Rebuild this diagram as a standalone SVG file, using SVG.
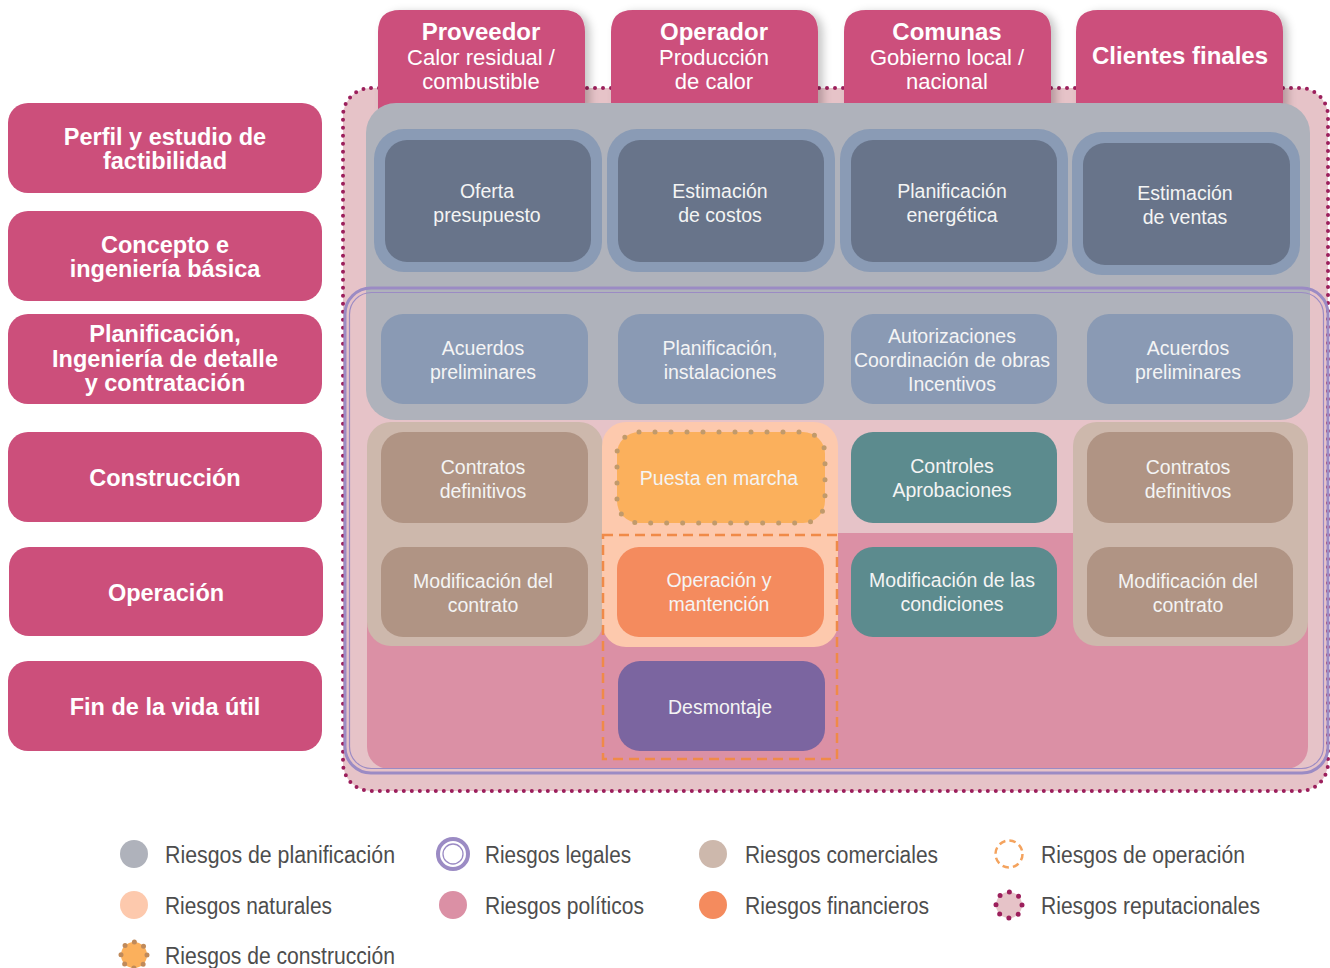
<svg xmlns="http://www.w3.org/2000/svg" width="1330" height="968" viewBox="0 0 1330 968">
<defs>
<style>
.ph{fill:#cc4f7b}
.pht{font-family:"Liberation Sans",Arial,sans-serif;font-weight:bold;font-size:23.5px;fill:#fff;text-anchor:middle}
.hb{font-family:"Liberation Sans",Arial,sans-serif;font-weight:bold;font-size:24px;fill:#fff;text-anchor:middle}
.hr{font-family:"Liberation Sans",Arial,sans-serif;font-size:22px;fill:#fff;text-anchor:middle}
.bt{font-family:"Liberation Sans",Arial,sans-serif;font-size:19.5px;fill:#f4f4f4;text-anchor:middle}
.lg{font-family:"Liberation Sans",Arial,sans-serif;font-size:23px;fill:#4d4d4d}
.dk{fill:#68748a}
.dkb{fill:#8a9bb5}
.lb{fill:#8a9ab4}
.br{fill:#b09484}
.tl{fill:#5c8b8e}
</style>
<filter id="sh" x="-10%" y="-10%" width="130%" height="130%">
<feDropShadow dx="5" dy="2" stdDeviation="4" flood-color="#000" flood-opacity="0.22"/>
</filter>
</defs>
<rect width="1330" height="968" fill="#fff"/>

<g id="reputational-area">
<rect x="343" y="88" width="985" height="703" rx="28" fill="#e6c3c8" stroke="#9c1f5c" stroke-width="4" stroke-dasharray="0 8" stroke-linecap="round"/>
</g>

<g id="header-proveedor">
<path d="M378 110 V32 Q378 10 400 10 H563 Q585 10 585 32 V110 Z" class="ph" filter="url(#sh)"/>
<text x="481" y="40" class="hb">Proveedor</text>
<text x="481" y="65" class="hr">Calor residual /</text>
<text x="481" y="89" class="hr">combustible</text>
</g>
<g id="header-operador">
<path d="M611 110 V32 Q611 10 633 10 H796 Q818 10 818 32 V110 Z" class="ph" filter="url(#sh)"/>
<text x="714" y="40" class="hb">Operador</text>
<text x="714" y="65" class="hr">Producción</text>
<text x="714" y="89" class="hr">de calor</text>
</g>
<g id="header-comunas">
<path d="M844 110 V32 Q844 10 866 10 H1029 Q1051 10 1051 32 V110 Z" class="ph" filter="url(#sh)"/>
<text x="947" y="40" class="hb">Comunas</text>
<text x="947" y="65" class="hr">Gobierno local /</text>
<text x="947" y="89" class="hr">nacional</text>
</g>
<g id="header-clientes">
<path d="M1076 110 V32 Q1076 10 1098 10 H1261 Q1283 10 1283 32 V110 Z" class="ph" filter="url(#sh)"/>
<text x="1180" y="64" class="hb">Clientes finales</text>
</g>

<g id="planning-area">
<rect x="366" y="103" width="944" height="317" rx="30" fill="#afb2bb"/>
</g>
<g id="political-area">
<rect x="367" y="533" width="941" height="236" rx="22" fill="#db90a5"/>
</g>
<g id="commercial-area-1">
<rect x="367" y="422" width="236" height="224" rx="24" fill="#cdb8ac"/>
</g>
<g id="natural-area">
<rect x="602" y="422" width="236" height="225" rx="24" fill="#fdc9ad"/>
</g>
<g id="commercial-area-4">
<rect x="1073" y="422" width="235" height="224" rx="24" fill="#cdb8ac"/>
</g>

<g id="legal-area" fill="none" stroke="#9b8bc4">
<rect x="345" y="288" width="983" height="485" rx="26" stroke-width="3"/>
<rect x="349.5" y="292.5" width="974" height="476" rx="22" stroke-width="1.2"/>
</g>

<g id="phase-perfil">
<rect x="8" y="103" width="314" height="90" rx="20" class="ph"/>
<text x="165" y="145" class="pht">Perfil y estudio de</text>
<text x="165" y="169" class="pht">factibilidad</text>
</g>
<g id="phase-concepto">
<rect x="8" y="211" width="314" height="90" rx="20" class="ph"/>
<text x="165" y="253" class="pht">Concepto e</text>
<text x="165" y="277" class="pht">ingeniería básica</text>
</g>
<g id="phase-planificacion">
<rect x="8" y="314" width="314" height="90" rx="20" class="ph"/>
<text x="165" y="342" class="pht">Planificación,</text>
<text x="165" y="367" class="pht">Ingeniería de detalle</text>
<text x="165" y="391" class="pht">y contratación</text>
</g>
<g id="phase-construccion">
<rect x="8" y="432" width="314" height="90" rx="20" class="ph"/>
<text x="165" y="486" class="pht">Construcción</text>
</g>
<g id="phase-operacion">
<rect x="9" y="547" width="314" height="89" rx="20" class="ph"/>
<text x="166" y="601" class="pht">Operación</text>
</g>
<g id="phase-fin">
<rect x="8" y="661" width="314" height="90" rx="20" class="ph"/>
<text x="165" y="715" class="pht">Fin de la vida útil</text>
</g>

<g id="oferta-presupuesto">
<rect x="374" y="129" width="228" height="143" rx="30" class="dkb"/>
<rect x="385" y="140" width="206" height="122" rx="22" class="dk"/>
<text x="487" y="198" class="bt">Oferta</text>
<text x="487" y="222" class="bt">presupuesto</text>
</g>
<g id="estimacion-costos">
<rect x="607" y="129" width="228" height="143" rx="30" class="dkb"/>
<rect x="618" y="140" width="206" height="122" rx="22" class="dk"/>
<text x="720" y="198" class="bt">Estimación</text>
<text x="720" y="222" class="bt">de costos</text>
</g>
<g id="planificacion-energetica">
<rect x="840" y="129" width="228" height="143" rx="30" class="dkb"/>
<rect x="851" y="140" width="206" height="122" rx="22" class="dk"/>
<text x="952" y="198" class="bt">Planificación</text>
<text x="952" y="222" class="bt">energética</text>
</g>
<g id="estimacion-ventas">
<rect x="1072" y="132" width="228" height="143" rx="30" class="dkb"/>
<rect x="1083" y="143" width="207" height="122" rx="22" class="dk"/>
<text x="1185" y="200" class="bt">Estimación</text>
<text x="1185" y="224" class="bt">de ventas</text>
</g>

<g id="acuerdos-preliminares-1">
<rect x="381" y="314" width="207" height="90" rx="22" class="lb"/>
<text x="483" y="355" class="bt">Acuerdos</text>
<text x="483" y="379" class="bt">preliminares</text>
</g>
<g id="planificacion-instalaciones">
<rect x="618" y="314" width="206" height="90" rx="22" class="lb"/>
<text x="720" y="355" class="bt">Planificación,</text>
<text x="720" y="379" class="bt">instalaciones</text>
</g>
<g id="autorizaciones">
<rect x="851" y="314" width="206" height="90" rx="22" class="lb"/>
<text x="952" y="343" class="bt">Autorizaciones</text>
<text x="952" y="367" class="bt">Coordinación de obras</text>
<text x="952" y="391" class="bt">Incentivos</text>
</g>
<g id="acuerdos-preliminares-4">
<rect x="1087" y="314" width="206" height="90" rx="22" class="lb"/>
<text x="1188" y="355" class="bt">Acuerdos</text>
<text x="1188" y="379" class="bt">preliminares</text>
</g>

<g id="contratos-definitivos-1">
<rect x="381" y="432" width="207" height="91" rx="22" class="br"/>
<text x="483" y="474" class="bt">Contratos</text>
<text x="483" y="498" class="bt">definitivos</text>
</g>
<g id="puesta-en-marcha">
<rect x="617" y="432" width="208" height="91" rx="22" fill="#fbb05c" stroke="#c19a6b" stroke-width="5" stroke-dasharray="0 16" stroke-linecap="round"/>
<text x="719" y="485" class="bt">Puesta en marcha</text>
</g>
<g id="controles-aprobaciones">
<rect x="851" y="432" width="206" height="91" rx="22" class="tl"/>
<text x="952" y="473" class="bt">Controles</text>
<text x="952" y="497" class="bt">Aprobaciones</text>
</g>
<g id="contratos-definitivos-4">
<rect x="1087" y="432" width="206" height="91" rx="22" class="br"/>
<text x="1188" y="474" class="bt">Contratos</text>
<text x="1188" y="498" class="bt">definitivos</text>
</g>

<g id="operation-risk-frame">
<rect x="603" y="535" width="234" height="224" fill="none" stroke="#f08a48" stroke-width="2.5" stroke-dasharray="10 6"/>
</g>

<g id="modificacion-contrato-1">
<rect x="381" y="547" width="207" height="90" rx="22" class="br"/>
<text x="483" y="588" class="bt">Modificación del</text>
<text x="483" y="612" class="bt">contrato</text>
</g>
<g id="operacion-mantencion">
<rect x="617" y="547" width="207" height="90" rx="22" fill="#f48b5e"/>
<text x="719" y="587" class="bt">Operación y</text>
<text x="719" y="611" class="bt">mantención</text>
</g>
<g id="modificacion-condiciones">
<rect x="851" y="547" width="206" height="90" rx="22" class="tl"/>
<text x="952" y="587" class="bt">Modificación de las</text>
<text x="952" y="611" class="bt">condiciones</text>
</g>
<g id="modificacion-contrato-4">
<rect x="1087" y="547" width="206" height="90" rx="22" class="br"/>
<text x="1188" y="588" class="bt">Modificación del</text>
<text x="1188" y="612" class="bt">contrato</text>
</g>
<g id="desmontaje">
<rect x="618" y="661" width="207" height="90" rx="22" fill="#7b65a0"/>
<text x="720" y="714" class="bt">Desmontaje</text>
</g>

<g id="legend">
<g id="legend-planificacion">
<circle cx="134" cy="854" r="14" fill="#afb2bb"/>
<text x="165" y="863" class="lg" textLength="230" lengthAdjust="spacingAndGlyphs">Riesgos de planificación</text>
</g>
<g id="legend-legales">
<circle cx="453" cy="854" r="15" fill="#fff" stroke="#9b8bc4" stroke-width="4"/>
<circle cx="453" cy="854" r="10" fill="none" stroke="#9b8bc4" stroke-width="1.3"/>
<text x="485" y="863" class="lg" textLength="146" lengthAdjust="spacingAndGlyphs">Riesgos legales</text>
</g>
<g id="legend-comerciales">
<circle cx="713" cy="854" r="14" fill="#cdb8ac"/>
<text x="745" y="863" class="lg" textLength="193" lengthAdjust="spacingAndGlyphs">Riesgos comerciales</text>
</g>
<g id="legend-operacion">
<circle cx="1009" cy="854" r="13.5" fill="none" stroke="#f4a35e" stroke-width="2.5" stroke-dasharray="6.5 4.1"/>
<text x="1041" y="863" class="lg" textLength="204" lengthAdjust="spacingAndGlyphs">Riesgos de operación</text>
</g>
<g id="legend-naturales">
<circle cx="134" cy="905" r="14" fill="#fdc9ad"/>
<text x="165" y="914" class="lg" textLength="167" lengthAdjust="spacingAndGlyphs">Riesgos naturales</text>
</g>
<g id="legend-politicos">
<circle cx="453" cy="905" r="14" fill="#db90a5"/>
<text x="485" y="914" class="lg" textLength="159" lengthAdjust="spacingAndGlyphs">Riesgos políticos</text>
</g>
<g id="legend-financieros">
<circle cx="713" cy="905" r="14" fill="#f48b5e"/>
<text x="745" y="914" class="lg" textLength="184" lengthAdjust="spacingAndGlyphs">Riesgos financieros</text>
</g>
<g id="legend-reputacionales">
<circle cx="1009" cy="905" r="13" fill="#e6c3c8" stroke="#9c1f5c" stroke-width="5" stroke-dasharray="0 10.21" stroke-linecap="round"/>
<text x="1041" y="914" class="lg" textLength="219" lengthAdjust="spacingAndGlyphs">Riesgos reputacionales</text>
</g>
<g id="legend-construccion">
<circle cx="134" cy="955" r="13" fill="#fbb05c" stroke="#c08a5a" stroke-width="5" stroke-dasharray="0 10.21" stroke-linecap="round"/>
<text x="165" y="964" class="lg" textLength="230" lengthAdjust="spacingAndGlyphs">Riesgos de construcción</text>
</g>
</g>
</svg>
